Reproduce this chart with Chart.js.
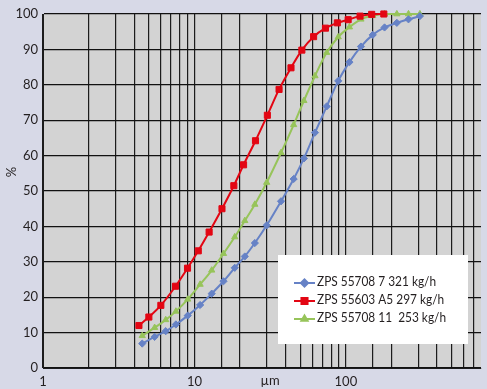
<!DOCTYPE html>
<html>
<head>
<meta charset="utf-8">
<script src="https://cdn.jsdelivr.net/npm/chart.js@4"></script>
<style>
  html, body { margin: 0; padding: 0; background: #d7d9e7; }
  #wrap { width: 487px; height: 389px; }
</style>
</head>
<body>
<div id="wrap"><canvas id="chart" width="487" height="389"></canvas></div>
<script>
// particle size (µm) for each measured point
const redSizes = [4.3, 5.0, 6.0, 7.5, 9.0, 10.6, 12.5, 15.2, 18.2, 21.1, 25.3, 30.3, 36.2, 43.4, 51.2, 61.2, 73.3, 87.8, 103.5, 124, 148, 178];
const sizes = [4.52, 5.46, 6.46, 7.54, 9.03, 10.9, 13.0, 15.55, 18.45, 21.5, 25.05, 30.0, 37.3, 45.2, 52.8, 62.5, 74.7, 89.0, 105.5, 125.7, 150.4, 180, 217, 259, 308];

// cumulative passing, %
const blueValues = [6.9, 8.8, 10.4, 12.3, 14.8, 17.8, 21.0, 24.5, 28.3, 31.5, 35.3, 40.3, 47.1, 53.4, 59.2, 66.5, 73.9, 81.1, 86.4, 90.8, 94.1, 96.2, 97.5, 98.5, 99.4];
const redValues = [12.0, 14.4, 17.7, 23.1, 28.2, 33.1, 38.4, 45.0, 51.5, 57.4, 64.2, 71.4, 78.7, 84.8, 89.8, 93.6, 96.0, 97.5, 98.4, 99.4, 99.9, 100];
const greenValues = [9.1, 11.4, 13.6, 16.0, 19.4, 23.6, 27.6, 32.3, 37.0, 41.6, 46.2, 52.4, 60.8, 68.7, 75.5, 82.5, 89.1, 93.5, 96.3, 98.5, 99.5, 100, 100, 100, 100];

const seriesLabels = ["ZPS 55708 7 321 kg/h", "ZPS 55603 A5 297 kg/h", "ZPS 55708 11  253 kg/h"];
const xTickLabels = [1, 10, 100];
const xMin = 1;
const xMax = 780;

const FONT = "Lato, 'Open Sans', sans-serif";
const TEXT = "#231f20";

function pairs(xs, ys){
  return xs.map((x, i) => ({x: x, y: ys[i]}));
}

function build_dataset(label, data, color, style, radius){
  return {
    label: label,
    data: data,
    borderColor: color,
    backgroundColor: color,
    borderWidth: 2,
    pointStyle: style,
    pointRadius: radius,
    pointHoverRadius: radius,
    pointBorderWidth: 1,
    cubicInterpolationMode: 'monotone',
    clip: false
  };
}

// grey plot area on the lavender page
const bgPlugin = {
  id: 'bg',
  beforeDraw(chart){
    const ctx = chart.ctx;
    const a = chart.chartArea;
    ctx.save();
    ctx.fillStyle = "#d7d9e7";
    ctx.fillRect(0, 0, chart.width, chart.height);
    ctx.fillStyle = "#d3d3d3";
    ctx.fillRect(a.left, a.top, a.right - a.left, a.bottom - a.top);
    ctx.restore();
  }
};

// axis titles and the white legend box inside the plot
const extrasPlugin = {
  id: 'extras',
  afterDraw(chart){
    const ctx = chart.ctx;
    ctx.save();
    ctx.fillStyle = TEXT;
    ctx.font = "13px " + FONT;
    ctx.textAlign = "center";
    ctx.textBaseline = "middle";
    ctx.fillText("µm", 270, 381);
    ctx.translate(12, 172);
    ctx.rotate(-Math.PI / 2);
    ctx.fillText("%", 0, 0);
    ctx.restore();

    ctx.save();
    ctx.fillStyle = "#ffffff";
    ctx.fillRect(278, 255, 190, 89);
    chart.data.datasets.forEach((ds, i) => {
      const y = 281.5 + i * 18;
      ctx.strokeStyle = ds.borderColor;
      ctx.lineWidth = 2;
      ctx.beginPath();
      ctx.moveTo(294, y + 1.5);
      ctx.lineTo(315, y + 1.5);
      ctx.stroke();
      ctx.fillStyle = ds.backgroundColor;
      Chart.helpers.drawPoint(ctx, {pointStyle: ds.pointStyle, radius: ds.pointRadius, borderWidth: 1}, 304.5, y + 1.5);
      // condensed look of the original legend face
      ctx.save();
      ctx.translate(317, y);
      ctx.scale(0.88, 1);
      ctx.fillStyle = TEXT;
      ctx.font = "13.5px " + FONT;
      ctx.textAlign = "left";
      ctx.textBaseline = "middle";
      ctx.fillText(ds.label, 0, 0);
      ctx.restore();
    });
    ctx.restore();
  }
};

function gridColor(ctx){
  const v = ctx.tick ? ctx.tick.value : 0;
  if (v >= xMax) return 'rgba(0,0,0,0)';
  return '#1c1c1c';
}

const ctx = document.getElementById('chart');
new Chart(ctx, {
  type: 'line',
  data: {
    datasets: [
      build_dataset(seriesLabels[0], pairs(sizes, blueValues), '#6682c6', 'rectRot', 3.6),
      build_dataset(seriesLabels[1], pairs(redSizes, redValues), '#e30613', 'rect', 4.3),
      build_dataset(seriesLabels[2], pairs(sizes, greenValues), '#97c45a', 'triangle', 3.6)
    ]
  },
  options: {
    responsive: false,
    animation: false,
    layout: { padding: { top: 14, right: 0, bottom: 0, left: 0 } },
    plugins: {
      legend: { display: false },
      tooltip: { enabled: false }
    },
    scales: {
      x: {
        type: 'logarithmic',
        min: xMin,
        max: xMax,
        afterFit: (scale) => { scale.height = 21; },
        grid: { color: gridColor, lineWidth: 1.2, drawTicks: false },
        border: { color: '#1c1c1c', width: 1 },
        ticks: {
          autoSkip: false,
          maxRotation: 0,
          padding: 6,
          color: TEXT,
          font: { family: FONT, size: 13 },
          callback: (v) => xTickLabels.includes(v) ? String(v) : ''
        }
      },
      y: {
        min: 0,
        max: 100,
        afterFit: (scale) => { scale.width = 43; },
        grid: { color: '#111111', lineWidth: 1.2, drawTicks: false },
        border: { color: '#1c1c1c', width: 1 },
        ticks: {
          stepSize: 10,
          padding: 5,
          color: TEXT,
          font: { family: FONT, size: 13 }
        }
      }
    }
  },
  plugins: [bgPlugin, extrasPlugin]
});
</script>
</body>
</html>
